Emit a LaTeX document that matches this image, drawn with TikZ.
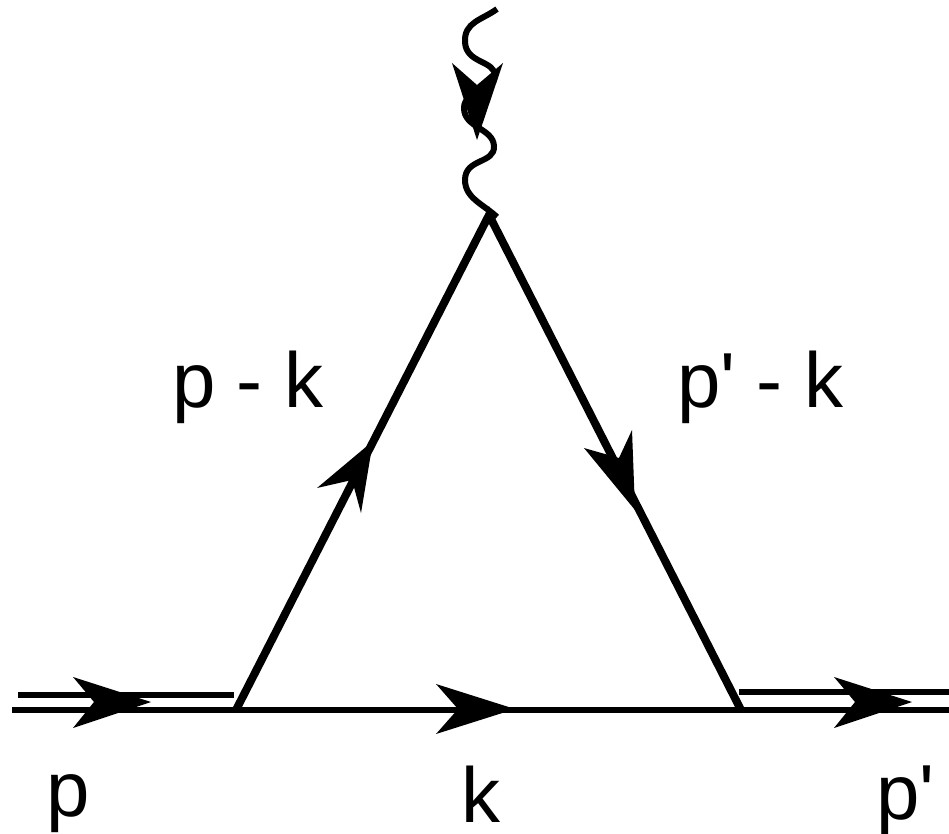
\documentclass[tikz,border=0pt]{standalone}
\usepackage{fontspec}
\newfontfamily\labfont{Liberation Sans}
\tikzset{
  line/.style={draw=black,line width=8pt,line cap=butt},
  thinline/.style={draw=black,line width=6pt,line cap=butt},
  upline/.style={draw=black,line width=6.5pt,line cap=butt},
  wave/.style={draw=black,line width=6pt,line cap=butt},
  head/.style={fill=black,draw=none},
  lab/.style={anchor=base west,inner sep=0pt,outer sep=0pt,font=\labfont\fontsize{78}{78}\selectfont}
}
\begin{document}
\begin{tikzpicture}[x=1pt,y=-1pt]
\useasboundingbox (0,0) rectangle (949,834);
% vertices
\coordinate (A) at (236,710);
\coordinate (B) at (489,215);
\coordinate (C) at (741,710);
\coordinate (Lin) at (12,710);
\coordinate (Lout) at (949,710);
\coordinate (U1a) at (18,695);
\coordinate (U1b) at (234,695);
\coordinate (U2a) at (739,691.5);
\coordinate (U2b) at (949,691.5);
\coordinate (W0) at (497,9);
% lines
\draw[line] (A) -- (B) -- (C);
\draw[thinline] (Lin) -- (Lout);
\draw[upline] (U1a) -- (U1b);
\draw[thinline] (U2a) -- (U2b);
% wavy line
\draw[wave] (W0) .. controls (482,20) and (464,22) .. (465,42)
  .. controls (466,64) and (495,60) .. (495,76)
  .. controls (495,90) and (464,90) .. (464,108)
  .. controls (464,128) and (493,128) .. (494,146)
  .. controls (495,164) and (465,158) .. (465,180)
  .. controls (465,198) and (483,204) .. (497,217);
% arrowheads
\fill[head] (151,702) -- (73,677) -- (94,702) -- (73,728) -- cycle;
\fill[head] (912,702) -- (834,677) -- (855,702) -- (834,728) -- cycle;
\fill[head] (515,709) -- (436,684) -- (458,709) -- (436,734) -- cycle;
\fill[head] (373,441) -- (317,488) -- (352,480) -- (361,513) -- cycle;
\fill[head] (635,510) -- (584,448) -- (619,458) -- (632,430) -- cycle;
\fill[head] (477,140) -- (452,63) -- (477,85) -- (503,63) -- cycle;
% labels
\node[lab] (lpk) at (172,407) {p - k};
\node[lab] (lppk) at (677,407) {p' - k};
\node[lab] (lp) at (46,816) {p};
\node[lab] (lk) at (461,822) {k};
\node[lab] (lpp) at (876,819) {p'};
\end{tikzpicture}
\end{document}
